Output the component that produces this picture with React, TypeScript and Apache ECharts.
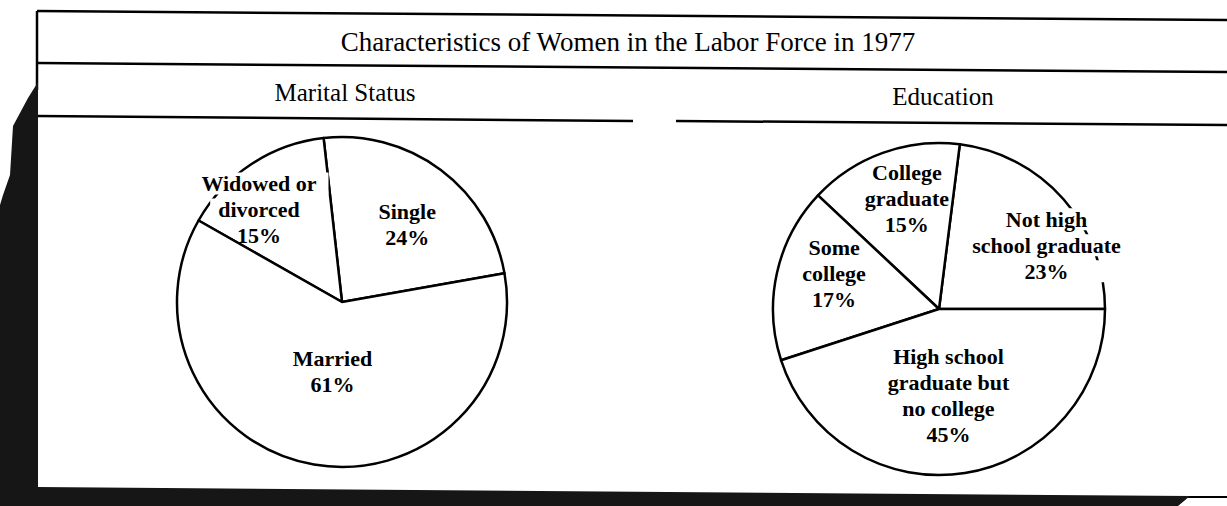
import React, { useEffect, useRef } from "react";
import * as echarts from "echarts";

// ---- chart texts & data ----
const TITLE = "Characteristics of Women in the Labor Force in 1977";
const LEFT_SUBTITLE = "Marital Status";
const RIGHT_SUBTITLE = "Education";

const maritalCategories = ["Single", "Widowed or\ndivorced", "Married"];
const maritalValues = [24, 15, 61];

const educationCategories = [
  "Not high\nschool graduate",
  "College\ngraduate",
  "Some\ncollege",
  "High school\ngraduate but\nno college",
];
const educationValues = [23, 15, 17, 45];

// ---- layout / style constants ----
const W = 1227;
const H = 506;
const SERIF = '"Liberation Serif", "Times New Roman", serif';
const LEFT_PIE = { cx: 342, cy: 302, r: 165, start: 10 };
const RIGHT_PIE = { cx: 939, cy: 309, r: 166, start: 0 };
const maritalLabelShift = [
  [14, -9],
  [-36, -21],
  [5, -15],
];
const educationLabelShift = [
  [43, -7],
  [-3, -30],
  [-21, -17],
  [-4, 2],
];
// label lines that sit over the circle's outline and break it (white backing):
// [dataIndex][lineIndex] -> horizontal padding
const maritalLineMask: Record<number, Record<number, number>> = { 1: { 0: 12, 1: 8 } };
const educationLineMask: Record<number, Record<number, number>> = { 0: { 0: 3, 1: 10, 2: 44 } };

const LINE_H = 26;
const LABEL_FONT = {
  color: "#000000",
  fontFamily: SERIF,
  fontWeight: "bold" as const,
  fontSize: 22,
  align: "center" as const,
};

function pieSeries(
  pie: { cx: number; cy: number; r: number; start: number },
  names: string[],
  values: number[],
  shift: number[][],
  mask: Record<number, Record<number, number>>
) {
  const rich: any = {
    t: { ...LABEL_FONT, lineHeight: LINE_H },
  };
  Object.keys(mask).forEach((di) => {
    Object.keys(mask[+di]).forEach((li) => {
      const ph = mask[+di][+li];
      rich[`m${di}_${li}`] = {
        ...LABEL_FONT,
        lineHeight: LINE_H,
        backgroundColor: "#ffffff",
        padding: [0, ph],
      };
    });
  });
  return {
    type: "pie",
    center: [pie.cx, pie.cy],
    radius: [0, pie.r],
    startAngle: pie.start,
    clockwise: false,
    avoidLabelOverlap: false,
    silent: true,
    data: names.map((name, i) => ({ name, value: values[i] })),
    itemStyle: { color: "#ffffff", borderColor: "#000000", borderWidth: 2.5 },
    label: {
      show: true,
      position: "inside",
      ...LABEL_FONT,
      lineHeight: LINE_H,
      textBorderWidth: 0,
      formatter: (p: any) => {
        const lines = `${p.name}\n${p.value}%`.split("\n");
        const m = mask[p.dataIndex] || {};
        return lines
          .map((ln, i) => (m[i] !== undefined ? `{m${p.dataIndex}_${i}|${ln}}` : `{t|${ln}}`))
          .join("\n");
      },
      rich,
    },
    labelLine: { show: false },
    labelLayout: (params: any) => {
      const s = shift[params.dataIndex] || [0, 0];
      return { dx: s[0], dy: s[1] };
    },
    emphasis: { disabled: true },
  };
}

function seg(x1: number, y1: number, x2: number, y2: number, w = 2.5) {
  return {
    type: "line",
    z: 50,
    silent: true,
    shape: { x1, y1, x2, y2 },
    style: { stroke: "#000000", lineWidth: w },
  };
}

function label(text: string, x: number, y: number, size: number) {
  return {
    type: "text",
    z: 50,
    x,
    y,
    style: {
      text,
      fill: "#000000",
      font: `normal ${size}px ${SERIF}`,
      align: "center",
      verticalAlign: "middle",
    },
  };
}

export default function App() {
  const ref = useRef<HTMLDivElement>(null);

  useEffect(() => {
    if (!ref.current) return;
    const chart = echarts.init(ref.current, null, { renderer: "svg" });

    const option: any = {
      animation: false,
      backgroundColor: "#ffffff",
      series: [
        pieSeries(LEFT_PIE, maritalCategories, maritalValues, maritalLabelShift, maritalLineMask),
        pieSeries(RIGHT_PIE, educationCategories, educationValues, educationLabelShift, educationLineMask),
      ],
      graphic: [
        // dark scanned border band (left and bottom)
        {
          type: "polygon",
          z: 60,
          silent: true,
          shape: {
            points: [
              [38, 82],
              [28, 98],
              [13, 126],
              [10, 175],
              [3, 195],
              [0, 205],
              [0, H],
              [1178, H],
              [1190, 496],
              [38, 487],
            ],
          },
          style: { fill: "#161616" },
        },
        seg(1188, 497, W, 497, 2),
        // frame lines
        seg(37, 11, W, 20),
        seg(37, 11, 37, 90),
        seg(37, 63, W, 72),
        seg(37, 116, 633, 121),
        seg(676, 121, W, 125),
        // headings
        label(TITLE, 628, 42, 27),
        label(LEFT_SUBTITLE, 345, 92, 25),
        label(RIGHT_SUBTITLE, 943, 96, 25),
      ],
    };

    chart.setOption(option);
    return () => chart.dispose();
  }, []);

  return (
    <div
      ref={ref}
      style={{ position: "absolute", left: 0, top: 0, width: W, height: H, background: "#fff" }}
    />
  );
}
